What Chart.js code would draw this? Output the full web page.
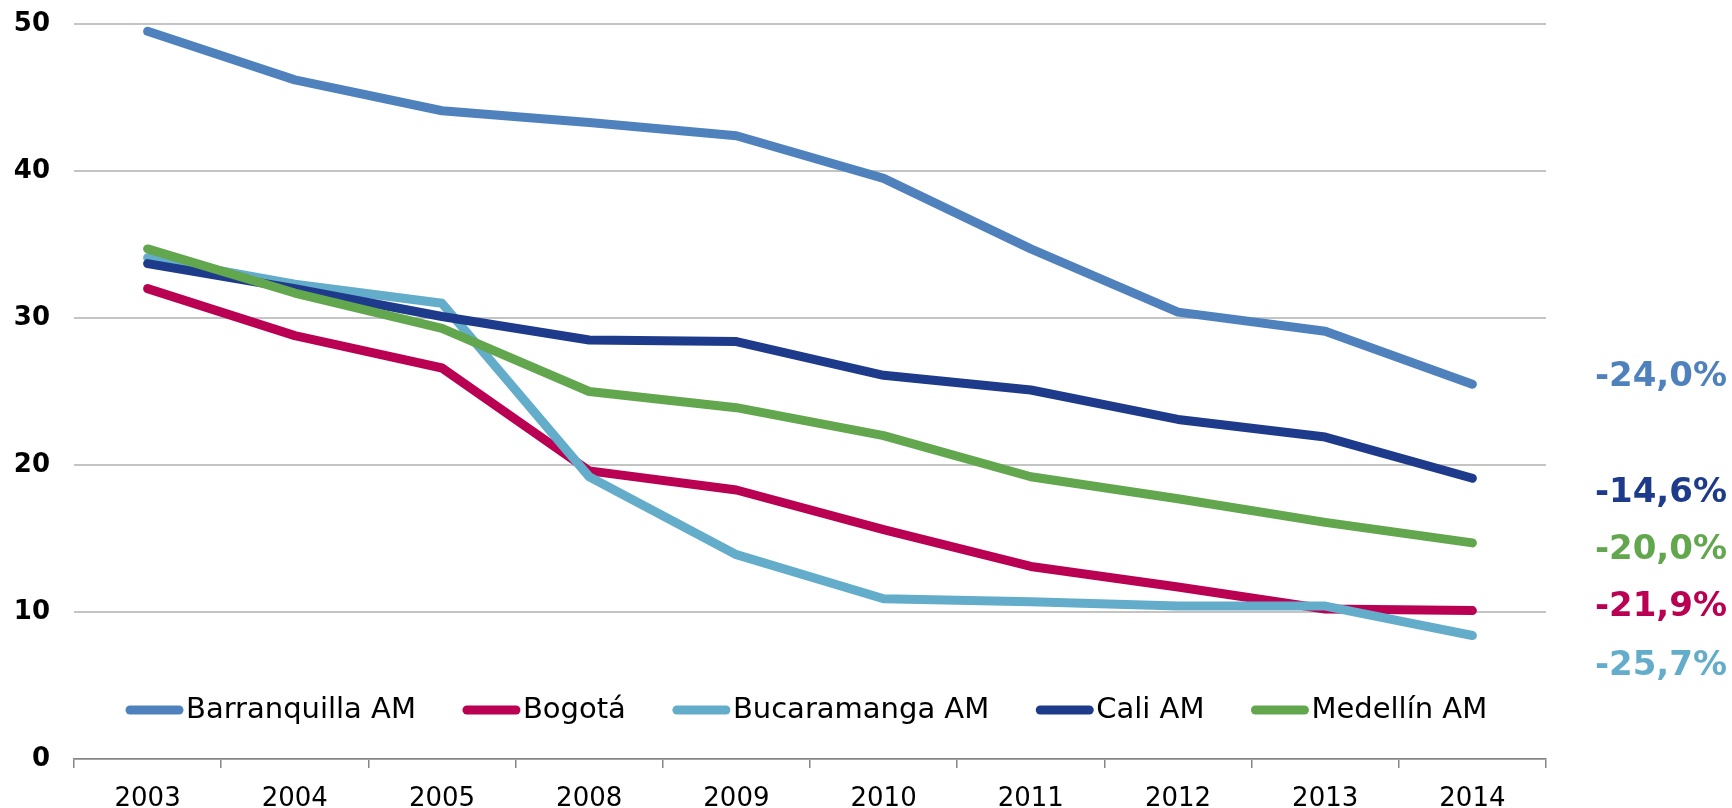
<!DOCTYPE html>
<html>
<head>
<meta charset="utf-8">
<script src="https://cdn.jsdelivr.net/npm/chart.js@4.4.1/dist/chart.umd.min.js"></script>
<style>
  html, body { margin: 0; padding: 0; background: #ffffff; }
  #wrap { width: 1732px; height: 808px; position: relative; }
</style>
</head>
<body>
<div id="wrap"><canvas id="lineChart"></canvas></div>
<script>
/* --------------- Data --------------------- */
var years = ["2003", "2004", "2005", "2008", "2009", "2010", "2011", "2012", "2013", "2014"];

var barranquilla = [49.5, 46.2, 44.1, 43.3, 42.4, 39.5, 34.7, 30.4, 29.1, 25.5];
var bogota       = [32.0, 28.8, 26.6, 19.6, 18.3, 15.6, 13.1, 11.7, 10.2, 10.1];
var bucaramanga  = [34.1, 32.3, 31.0, 19.2, 13.9, 10.9, 10.7, 10.4, 10.4, 8.4];
var cali         = [33.7, 32.0, 30.1, 28.5, 28.4, 26.1, 25.1, 23.1, 21.9, 19.1];
var medellin     = [34.7, 31.7, 29.3, 25.0, 23.9, 22.0, 19.2, 17.7, 16.1, 14.7];

var seriesNames = ["Barranquilla AM", "Bogotá", "Bucaramanga AM", "Cali AM", "Medellín AM"];
var seriesColors = ["#4F81BD", "#BA0052", "#63ACCA", "#1E3A8A", "#62A64E"];

/* --------------- Change labels on the right (text + value where they sit) --------------------- */
var changeText = ["-24,0%", "-14,6%", "-20,0%", "-21,9%", "-25,7%"];
var changeColors = ["#4F81BD", "#1E3A8A", "#62A64E", "#BA0052", "#63ACCA"];
var changeAt = [26.0, 18.1, 14.2, 10.3, 6.3];

var yTicks = [0, 10, 20, 30, 40, 50];

/* --------------- Legend drawn inside the plot, one row --------------------- */
var insideLegend = {
  id: "insideLegend",
  afterDatasetsDraw: function (chart) {
    var ctx = chart.ctx;
    var y = 710;
    var x = chart.chartArea.left + 52;
    ctx.save();
    ctx.font = "29px 'DejaVu Sans'";
    ctx.textBaseline = "middle";
    ctx.textAlign = "left";
    chart.data.datasets.forEach(function (ds) {
      ctx.strokeStyle = ds.borderColor;
      ctx.lineWidth = 9;
      ctx.lineCap = "round";
      ctx.beginPath();
      ctx.moveTo(x + 4, y);
      ctx.lineTo(x + 53, y);
      ctx.stroke();
      ctx.fillStyle = "#000000";
      ctx.fillText(ds.label, x + 60, y);
      x += 60 + ctx.measureText(ds.label).width + 47;
    });
    ctx.restore();
  }
};

var changeLabels = {
  id: "changeLabels",
  afterDraw: function (chart) {
    var ctx = chart.ctx;
    var yScale = chart.scales.y;
    ctx.save();
    ctx.font = "bold 34px 'DejaVu Sans'";
    ctx.textAlign = "right";
    ctx.textBaseline = "middle";
    for (var i = 0; i < changeText.length; i++) {
      ctx.fillStyle = changeColors[i];
      ctx.fillText(changeText[i], chart.width - 5, yScale.getPixelForValue(changeAt[i]));
    }
    ctx.restore();
  }
};

var allSeries = [barranquilla, bogota, bucaramanga, cali, medellin];
var datasets = allSeries.map(function (vals, i) {
  return {
    label: seriesNames[i],
    data: vals,
    borderColor: seriesColors[i],
    backgroundColor: seriesColors[i],
    borderWidth: 9,
    borderCapStyle: "round",
    borderJoinStyle: "round",
    pointRadius: 0,
    tension: 0,
    fill: false,
    order: allSeries.length - i
  };
});

new Chart(document.getElementById("lineChart"), {
  type: "line",
  data: { labels: years, datasets: datasets },
  plugins: [insideLegend, changeLabels],
  options: {
    responsive: true,
    maintainAspectRatio: false,
    animation: false,
    layout: { padding: { top: 24, right: 186, bottom: 0, left: 0 } },
    plugins: {
      legend: { display: false },
      tooltip: { enabled: false }
    },
    scales: {
      x: {
        offset: true,
        grid: {
          offset: true,
          drawOnChartArea: false,
          drawTicks: true,
          tickLength: 9,
          color: "#868686",
          lineWidth: 1.5
        },
        border: { display: true, color: "#868686", width: 1.5 },
        ticks: {
          color: "#000000",
          font: { family: "'DejaVu Sans'", size: 26 },
          padding: 16,
          maxRotation: 0
        },
        afterFit: function (scale) { scale.height = 49; }
      },
      y: {
        min: 0,
        max: 50,
        afterBuildTicks: function (scale) {
          scale.ticks = yTicks.map(function (v) { return { value: v }; });
        },
        grid: {
          color: "#C4C4C4",
          lineWidth: 2,
          drawTicks: true,
          tickLength: 24,
          tickColor: "rgba(0,0,0,0)"
        },
        border: { display: false },
        ticks: {
          color: "#000000",
          font: { family: "'DejaVu Sans'", size: 26, weight: "bold" },
          padding: 0
        },
        afterFit: function (scale) { scale.width = 74; }
      }
    }
  }
});
</script>
</body>
</html>
